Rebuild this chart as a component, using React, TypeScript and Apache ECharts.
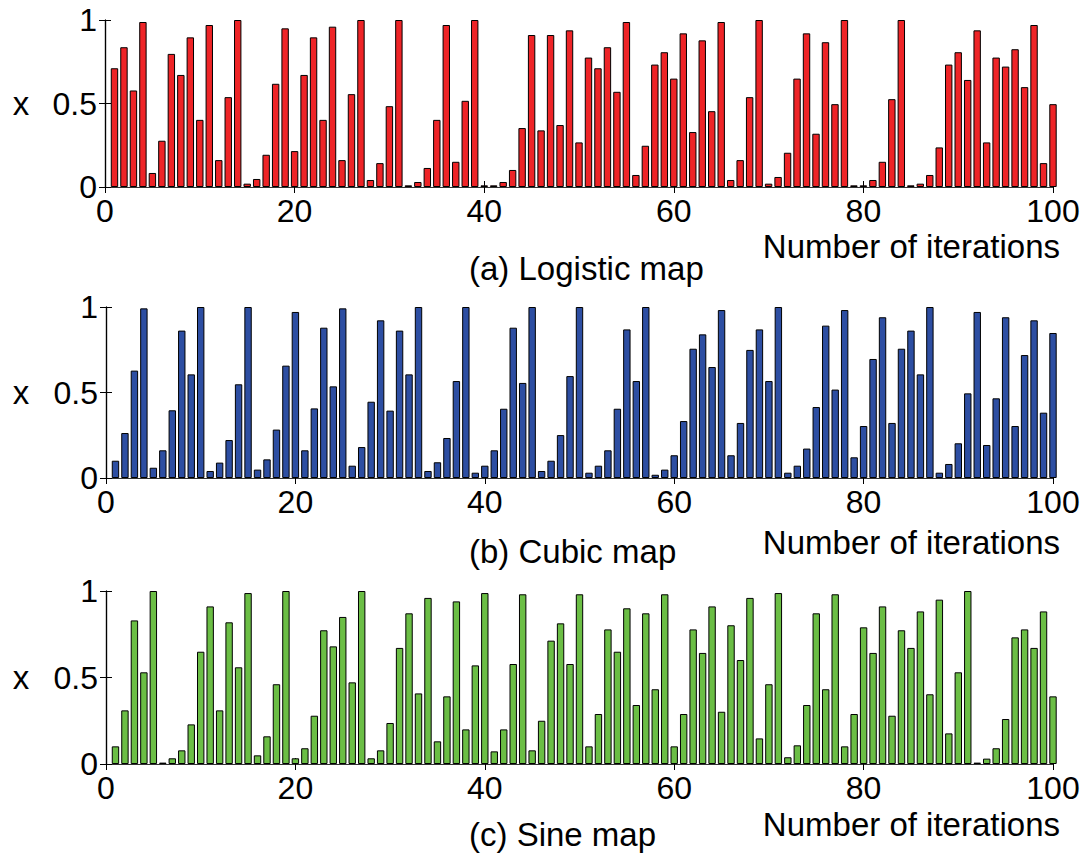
import { useEffect, useRef } from "react";
import * as echarts from "echarts";

const logisticValues = [
  0.711, 0.837, 0.578, 0.988, 0.084, 0.277, 0.797, 0.671, 0.896, 0.402,
  0.97, 0.161, 0.538, 1.0, 0.02, 0.048, 0.193, 0.618, 0.95, 0.215,
  0.671, 0.896, 0.402, 0.96, 0.161, 0.556, 1.0, 0.042, 0.143, 0.484,
  1.0, 0.01, 0.03, 0.114, 0.402, 0.97, 0.151, 0.516, 1.0, 0.01,
  0.01, 0.03, 0.102, 0.353, 0.91, 0.339, 0.91, 0.371, 0.938, 0.267,
  0.775, 0.711, 0.837, 0.57, 0.988, 0.072, 0.247, 0.733, 0.807, 0.649,
  0.92, 0.329, 0.878, 0.454, 0.988, 0.042, 0.161, 0.538, 1.0, 0.02,
  0.06, 0.205, 0.649, 0.92, 0.319, 0.867, 0.496, 1.0, 0.01, 0.01,
  0.042, 0.151, 0.526, 1.0, 0.01, 0.02, 0.072, 0.237, 0.733, 0.807,
  0.641, 0.938, 0.267, 0.775, 0.721, 0.825, 0.598, 0.97, 0.143, 0.496,
];

const cubicValues = [
  0.101, 0.263, 0.628, 0.992, 0.06, 0.162, 0.396, 0.862, 0.606, 1.0,
  0.041, 0.09, 0.222, 0.548, 1.0, 0.049, 0.109, 0.283, 0.657, 0.971,
  0.162, 0.407, 0.879, 0.536, 0.992, 0.072, 0.181, 0.446, 0.922, 0.394,
  0.862, 0.606, 1.0, 0.041, 0.092, 0.234, 0.567, 1.0, 0.031, 0.072,
  0.162, 0.405, 0.879, 0.556, 1.0, 0.041, 0.101, 0.251, 0.596, 1.0,
  0.031, 0.072, 0.162, 0.405, 0.869, 0.567, 1.0, 0.019, 0.049, 0.133,
  0.333, 0.756, 0.84, 0.649, 0.982, 0.133, 0.322, 0.749, 0.869, 0.567,
  1.0, 0.031, 0.072, 0.172, 0.415, 0.891, 0.517, 0.982, 0.121, 0.304,
  0.696, 0.94, 0.322, 0.756, 0.862, 0.606, 1.0, 0.031, 0.082, 0.203,
  0.495, 0.971, 0.193, 0.466, 0.94, 0.304, 0.719, 0.922, 0.382, 0.848,
];

const sineValues = [
  0.102, 0.31, 0.83, 0.53, 1.0, 0.008, 0.033, 0.079, 0.229, 0.649,
  0.911, 0.31, 0.819, 0.559, 0.988, 0.05, 0.16, 0.461, 1.0, 0.033,
  0.091, 0.279, 0.773, 0.68, 0.85, 0.472, 1.0, 0.033, 0.079, 0.237,
  0.671, 0.871, 0.408, 0.96, 0.131, 0.391, 0.94, 0.2, 0.57, 0.988,
  0.073, 0.2, 0.578, 0.981, 0.079, 0.25, 0.713, 0.813, 0.578, 0.981,
  0.102, 0.289, 0.778, 0.649, 0.9, 0.341, 0.871, 0.432, 0.981, 0.102,
  0.289, 0.778, 0.642, 0.911, 0.302, 0.802, 0.601, 0.96, 0.148, 0.461,
  0.988, 0.039, 0.108, 0.341, 0.871, 0.432, 0.981, 0.102, 0.289, 0.79,
  0.642, 0.911, 0.279, 0.773, 0.671, 0.882, 0.403, 0.95, 0.177, 0.53,
  1.0, 0.008, 0.031, 0.091, 0.26, 0.732, 0.778, 0.671, 0.882, 0.391,
];

const panelTitles = ["(a) Logistic map", "(b) Cubic map", "(c) Sine map"];
const panelColors = ["#EE2427", "#2D4EA2", "#6BBE45"];
const xAxisName = "Number of iterations";
const yAxisName = "x";

const FONT = "'Liberation Sans', Arial, sans-serif";
const FS = 32;
const LH = 25;

const grids = [
  { left: 105, top: 20, width: 948, height: 167 },
  { left: 106, top: 307, width: 947, height: 171 },
  { left: 106, top: 591, width: 947, height: 173 },
];
const xNameY = [246, 542, 824];
const titleY = [268, 551, 834];

export default function App() {
  const ref = useRef<HTMLDivElement>(null);
  useEffect(() => {
    if (!ref.current) return;
    const chart = echarts.init(ref.current, null, { renderer: "svg" });
    const allValues = [logisticValues, cubicValues, sineValues];
    const xAxes: any[] = [];
    const yAxes: any[] = [];
    const series: any[] = [];
    const graphics: any[] = [];
    grids.forEach((g, i) => {
      xAxes.push({
        type: "value",
        gridIndex: i,
        min: 0,
        max: 100,
        interval: 20,
        position: "bottom",
        axisLine: { show: true, lineStyle: { color: "#000", width: 1.2 } },
        axisTick: { show: true, inside: true, length: 6, lineStyle: { color: "#000" } },
        axisLabel: { fontSize: FS, lineHeight: LH, fontFamily: FONT, color: "#000", margin: 11 },
        splitLine: { show: false },
      });
      xAxes.push({
        type: "value",
        gridIndex: i,
        min: 0,
        max: 100,
        interval: 20,
        position: "top",
        axisLine: { show: true, lineStyle: { color: "#333", width: 1.2 } },
        axisTick: { show: true, inside: true, length: 6, lineStyle: { color: "#000" } },
        axisLabel: { show: false },
        splitLine: { show: false },
      });
      yAxes.push({
        type: "value",
        gridIndex: i,
        min: 0,
        max: 1,
        interval: 0.5,
        position: "left",
        axisLine: { show: true, lineStyle: { color: "#000", width: 1.2 } },
        axisTick: { show: true, inside: true, length: 6, lineStyle: { color: "#000" } },
        axisLabel: { fontSize: FS, lineHeight: LH, fontFamily: FONT, color: "#000", margin: 8 },
        splitLine: { show: false },
      });
      yAxes.push({
        type: "value",
        gridIndex: i,
        min: 0,
        max: 1,
        interval: 0.5,
        position: "right",
        axisLine: { show: true, lineStyle: { color: "#000", width: 1.2 } },
        axisTick: { show: true, inside: true, length: 6, lineStyle: { color: "#000" } },
        axisLabel: { show: false },
        splitLine: { show: false },
      });
      series.push({
        type: "bar",
        xAxisIndex: 2 * i,
        yAxisIndex: 2 * i,
        barWidth: 7.4,
        data: allValues[i].map((v, k) => [k + 1, v]),
        itemStyle: { color: panelColors[i], borderColor: "#000", borderWidth: 1 },
        clip: true,
      });
      graphics.push({
        type: "text",
        style: {
          text: yAxisName,
          x: 21,
          y: g.top + g.height / 2,
          font: `${FS + 1}px ${FONT}`,
          lineHeight: LH,
          fill: "#000",
          textAlign: "center",
          textVerticalAlign: "middle",
        },
      });
      graphics.push({
        type: "text",
        style: {
          text: xAxisName,
          x: 1060,
          y: xNameY[i],
          font: `33px ${FONT}`,
          lineHeight: LH,
          fill: "#000",
          textAlign: "right",
          textVerticalAlign: "middle",
        },
      });
      graphics.push({
        type: "text",
        style: {
          text: panelTitles[i],
          x: 469,
          y: titleY[i],
          font: `33px ${FONT}`,
          lineHeight: LH,
          fill: "#000",
          textAlign: "left",
          textVerticalAlign: "middle",
        },
      });
    });
    chart.setOption({
      animation: false,
      backgroundColor: "#fff",
      grid: grids.map((g) => ({ ...g, show: false })),
      xAxis: xAxes,
      yAxis: yAxes,
      series,
      graphic: graphics,
    });
    return () => chart.dispose();
  }, []);
  return (
    <div
      ref={ref}
      style={{ position: "fixed", left: 0, top: 0, width: 1090, height: 858, background: "#fff" }}
    />
  );
}
